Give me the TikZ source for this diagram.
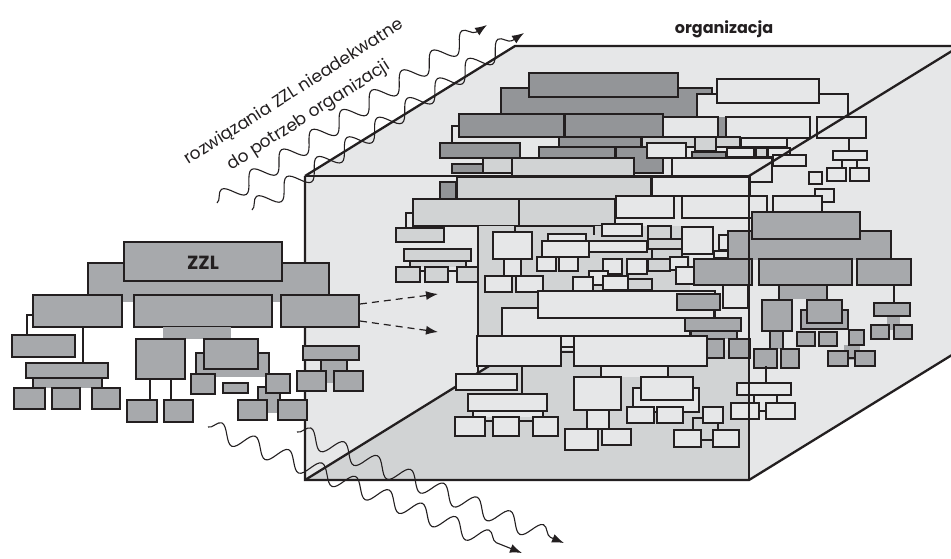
\documentclass[tikz,border=0pt]{standalone}
\usepackage{fontspec}
\setmainfont{Poppins}
\usetikzlibrary{arrows.meta,decorations.pathmorphing}
\definecolor{ink}{HTML}{231F20}
\definecolor{cdk}{HTML}{939598}
\definecolor{cmd}{HTML}{A7A9AC}
\definecolor{clt}{HTML}{D1D3D4}
\definecolor{cwt}{HTML}{E6E7E8}
% a framed box, a bar open at the bottom, a plain connector
\newcommand\bxr[5]{\draw[#1] (#2,#3) rectangle (#4,#5);}
\newcommand\bxbar[5]{\fill[#1] (#2,#3) rectangle (#4,#5);\draw[wire] (#2,#5) -- (#2,#3) -- (#4,#3) -- (#4,#5);}
\newcommand\cnx[1]{\draw[wire] #1;}
\tikzset{
  wire/.style={draw=ink,line width=1.1pt},
  dk/.style={draw=ink,fill=cdk,line width=1.2pt},
  md/.style={draw=ink,fill=cmd,line width=1.2pt},
  lt/.style={draw=ink,fill=clt,line width=1.2pt},
  wt/.style={draw=ink,fill=cwt,line width=1.2pt},
  edge/.style={draw=ink,line width=2.3pt,line join=miter},
  wave/.style={draw=ink,line width=1.1pt,-{Latex[length=12pt,width=9pt]},
    decorate,decoration={snake,amplitude=9pt,segment length=36pt,post length=10pt}},
  dasharrow/.style={draw=ink,line width=1.2pt,dash pattern=on 7pt off 5pt,
    -{Latex[length=12pt,width=9pt]}},
  label/.style={font=\fontsize{17}{19}\selectfont,text=ink,inner sep=0pt}
}
\begin{document}
\begin{tikzpicture}[x=1pt,y=-1pt]
\clip (0,0) rectangle (951,558);
\fill[white] (0,0) rectangle (951,558);

% ---------- cube faces ----------
\fill[clt] (305,176) -- (515,46) -- (960,46) -- (749,176) -- cycle;
\fill[cwt] (305,176) -- (515,46) -- (515,350) -- (305,480) -- cycle;
\fill[cwt] (515,46) rectangle (960,350);
\fill[clt] (305,480) -- (515,350) -- (960,350) -- (749,480) -- cycle;
\fill[cwt] (749,176) -- (960,46) -- (960,350) -- (749,480) -- cycle;
\draw[edge] (305,480) -- (515,350);
\draw[edge] (305,176) -- (515,46) -- (960,46);
\draw[edge] (305,176) -- (305,480) -- (749,480) -- (960,350);

% ---------- back dark chart ----------
\bxbar{cdk}{501}{88}{712}{116}
\bxr{dk}{529}{73}{678}{97}
\bxr{dk}{459}{114}{564}{137}
\bxr{dk}{565}{114}{663}{137}
\cnx{(459,126) -- (452,126) -- (452,143)}
\bxbar{cdk}{559}{137}{641}{147}
\bxr{dk}{440}{143}{520}{158}
\bxr{dk}{539}{147}{615}{158}
\bxr{dk}{616}{147}{663}{173}
\bxr{lt}{483}{158}{512}{173}
\bxr{dk}{452}{164}{483}{173}
\bxr{lt}{512}{158}{634}{183}

% ---------- upper light chart ----------
\bxbar{cwt}{697}{94}{848}{120}
\bxr{wt}{717}{79}{819}{103}
\fill[cdk] (716,117) rectangle (727,138);
\bxr{wt}{663}{117}{718}{138}
\bxr{wt}{726}{117}{810}{138}
\bxr{wt}{817}{117}{866}{138}
\bxr{lt}{642}{137}{695}{147}
\bxr{lt}{695}{137}{716}{151}
\bxr{lt}{716}{137}{740}{147}
\bxr{wt}{741}{138}{787}{147}
\cnx{(849,138) -- (849,151)}
\bxr{wt}{833}{151}{867}{160}
\bxbar{cwt}{842}{160}{857}{168}
\bxr{wt}{827}{168}{846}{181}
\bxr{wt}{850}{168}{869}{181}
\bxr{wt}{809}{172}{822}{184}
\bxr{wt}{815}{189}{834}{202}
\bxr{wt}{647}{143}{686}{158}
\bxr{dk}{692}{152}{726}{158}
\bxr{wt}{727}{148}{754}{157}
\bxr{lt}{756}{148}{767}{157}
\bxr{wt}{768}{148}{790}{157}
\bxr{wt}{773}{155}{806}{166}
\bxr{wt}{672}{158}{772}{182}

% ---------- row under the front top edge ----------
\bxr{dk}{440}{182}{456}{199}
\bxr{lt}{457}{177}{651}{199}
\bxr{wt}{652}{177}{750}{196}
\bxr{wt}{773}{196}{822}{212}
\bxr{lt}{413}{199}{519}{226}
\bxr{lt}{519}{199}{615}{226}
\cnx{(413,213) -- (406,213) -- (406,228)}
\bxr{lt}{396}{228}{444}{242}
\bxr{wt}{616}{196}{674}{218}
\bxr{wt}{682}{196}{767}{218}

% small chart on the left wall
\bxr{lt}{404}{249}{471}{261}
\bxbar{clt}{410}{261}{466}{267}
\bxr{lt}{396}{267}{420}{282}
\bxr{lt}{425}{267}{448}{282}
\bxr{lt}{457}{267}{480}{282}
\cnx{(420,271) -- (425,271)}
\cnx{(448,271) -- (457,271)}

% ---------- middle cluster ----------
\fill[clt] (478,226) rectangle (690,336);
\cnx{(478,226) -- (478,374)}
\bxbar{clt}{515}{226}{594}{235}
\bxr{wt}{493}{232}{532}{259}
\bxr{wt}{504}{259}{521}{276}
\bxr{wt}{485}{276}{512}{292}
\bxr{wt}{516}{276}{543}{292}
\bxr{wt}{548}{234}{586}{242}
\bxr{wt}{589}{241}{647}{252}
\bxr{wt}{542}{241}{589}{257}
\bxr{wt}{537}{257}{556}{271}
\bxr{wt}{559}{257}{578}{271}
\bxr{wt}{602}{224}{642}{236}
\bxr{wt}{603}{259}{622}{274}
\bxr{wt}{627}{259}{647}{274}
\bxr{wt}{589}{271}{608}{285}
\bxr{lt}{628}{279}{652}{290}
\bxr{wt}{573}{277}{593}{291}
\bxr{wt}{603}{276}{628}{290}
\bxr{lt}{648}{226}{671}{239}
\bxr{lt}{648}{239}{682}{249}
\bxr{lt}{652}{249}{682}{259}
\bxr{lt}{648}{259}{670}{271}
\bxr{wt}{682}{227}{713}{254}
\bxr{wt}{670}{257}{688}{270}
\bxr{wt}{676}{267}{694}{284}
\bxr{wt}{719}{235}{728}{250}
\bxr{wt}{714}{251}{728}{258}

% ---------- right chart ----------
\bxbar{cmd}{728}{231}{891}{260}
\bxr{md}{752}{212}{860}{239}
\bxr{md}{694}{259}{752}{285}
\bxr{md}{759}{259}{852}{285}
\bxr{md}{857}{259}{911}{285}
\bxr{wt}{723}{285}{748}{308}
\bxbar{cmd}{779}{285}{827}{299}
\bxr{md}{762}{300}{792}{331}
\bxr{md}{801}{310}{848}{329}
\bxr{md}{807}{300}{842}{323}
\bxbar{cmd}{770}{331}{783}{349}
\bxr{md}{754}{349}{777}{368}
\bxr{md}{781}{349}{799}{368}
\bxr{md}{797}{332}{815}{346}
\bxr{md}{819}{332}{837}{346}
\fill[cmd] (844,345) rectangle (860,360);
\bxr{md}{849}{330}{864}{345}
\bxr{md}{828}{351}{848}{366}
\bxr{md}{855}{351}{875}{366}
\cnx{(848,358) -- (855,358)}
\cnx{(894,285) -- (894,303)}
\fill[cmd] (887,316) rectangle (900,330);
\bxr{md}{874}{303}{910}{316}
\bxr{md}{871}{325}{889}{339}
\bxr{md}{894}{325}{912}{339}

% ---------- large middle boxes ----------
\bxr{wt}{502}{308}{690}{336}
\bxr{wt}{538}{291}{715}{318}
\bxr{md}{677}{294}{720}{310}
\cnx{(714,310) -- (714,318)}
\bxr{md}{685}{318}{741}{331}
\bxbar{cmd}{691}{331}{737}{339}
\bxr{md}{677}{339}{698}{358}
\bxr{md}{703}{339}{724}{358}
\bxr{md}{729}{339}{750}{358}

% ---------- lower charts ----------
\cnx{(561,347) -- (574,347)}
\cnx{(561,352) -- (574,352)}
\bxr{wt}{477}{336}{561}{366}
\bxr{wt}{574}{336}{707}{366}
\bxr{wt}{456}{374}{517}{390}
\cnx{(522,366) -- (522,394)}
\bxr{wt}{468}{394}{547}{411}
\bxbar{cwt}{473}{411}{543}{417}
\bxr{wt}{455}{417}{485}{436}
\bxr{wt}{493}{417}{519}{436}
\bxr{wt}{533}{417}{558}{436}
\cnx{(485,421) -- (493,421)}
\cnx{(519,421) -- (533,421)}
\bxbar{cwt}{601}{366}{668}{377}
\bxr{wt}{574}{377}{621}{410}
\bxr{wt}{587}{410}{609}{429}
\bxr{wt}{565}{429}{598}{450}
\bxr{wt}{602}{429}{631}{445}
\bxr{wt}{633}{388}{699}{412}
\bxr{wt}{641}{377}{693}{400}
\bxr{wt}{627}{407}{654}{423}
\bxr{wt}{657}{407}{683}{423}
\cnx{(703,418) -- (693,418) -- (693,430)}
\cnx{(718,423) -- (718,430)}
\bxr{wt}{703}{407}{723}{423}
\bxr{wt}{674}{430}{701}{447}
\bxr{wt}{713}{430}{739}{447}
\cnx{(701,440) -- (713,440)}
\cnx{(766,366) -- (766,383)}
\bxr{wt}{737}{383}{791}{395}
\cnx{(754,395) -- (754,403)}
\cnx{(777,395) -- (777,403)}
\bxr{wt}{731}{403}{759}{419}
\bxr{wt}{766}{403}{795}{419}
\cnx{(759,411) -- (766,411)}

% ---------- front edges of the cube ----------
\draw[edge] (305,176) -- (749,176) -- (749,480);
\draw[edge] (749,176) -- (960,46);

% ---------- ZZL chart ----------
\bxbar{cmd}{88}{263}{329}{302}
\bxr{md}{124}{242}{282}{281}
\bxr{md}{33}{295}{122}{327}
\bxr{md}{134}{295}{272}{327}
\bxr{md}{281}{295}{359}{327}
% first branch
\cnx{(33,315) -- (27,315) -- (27,335)}
\bxr{md}{12}{335}{75}{357}
\cnx{(83,327) -- (83,363)}
\bxr{md}{26}{363}{108}{378}
\bxbar{cmd}{33}{378}{102}{388}
\bxr{md}{14}{388}{45}{409}
\bxr{md}{52}{388}{80}{409}
\bxr{md}{92}{388}{120}{409}
% second branch
\fill[cmd] (163,327) rectangle (231,339);
\bxr{md}{136}{339}{185}{379}
\cnx{(150,379) -- (150,400)}
\cnx{(171,379) -- (171,400)}
\bxr{md}{127}{400}{157}{422}
\bxr{md}{164}{400}{193}{422}
\bxbar{cmd}{196}{353}{269}{377}
\bxr{md}{204}{339}{258}{369}
\bxr{md}{191}{374}{215}{394}
\bxr{md}{223}{383}{248}{393}
\bxbar{cmd}{258}{387}{280}{413}
\bxr{md}{266}{374}{290}{393}
\bxr{md}{238}{400}{267}{420}
\bxr{md}{278}{400}{307}{420}
% third branch
\bxr{md}{303}{346}{359}{360}
\bxbar{cmd}{321}{360}{347}{383}
\bxr{md}{297}{371}{326}{391}
\bxr{md}{334}{371}{363}{391}
\node[label,font=\fontsize{19}{21}\selectfont\bfseries] (zzl) at (203,263) {ZZL};

% ---------- dashed arrows into the organisation ----------
\coordinate (da1) at (360,304);
\coordinate (db1) at (438,294);
\coordinate (da2) at (360,321);
\coordinate (db2) at (438,332);
\draw[dasharrow] (da1) -- (db1);
\draw[dasharrow] (da2) -- (db2);

% ---------- wavy arrows ----------
\coordinate (wa1) at (217,203);
\coordinate (wb1) at (487,25);
\coordinate (wa2) at (252,210);
\coordinate (wb2) at (524,33);
\coordinate (wa3) at (208,427);
\coordinate (wb3) at (522,553);
\coordinate (wa4) at (297,432);
\coordinate (wb4) at (564,543);
\draw[wave] (wa1) -- (wb1);
\draw[wave] (wa2) -- (wb2);
\draw[wave] (wa3) -- (wb3);
\draw[wave] (wa4) -- (wb4);

% ---------- labels ----------
\node[label,font=\fontsize{16}{18}\selectfont\bfseries] (org) at (724,29) {organizacja};
\node[label,rotate=32.5] (cap1) at (294,92) {rozwiązania ZZL nieadekwatne};
\node[label,rotate=32.5] (cap2) at (309,116) {do potrzeb organizacji};
\end{tikzpicture}
\end{document}
